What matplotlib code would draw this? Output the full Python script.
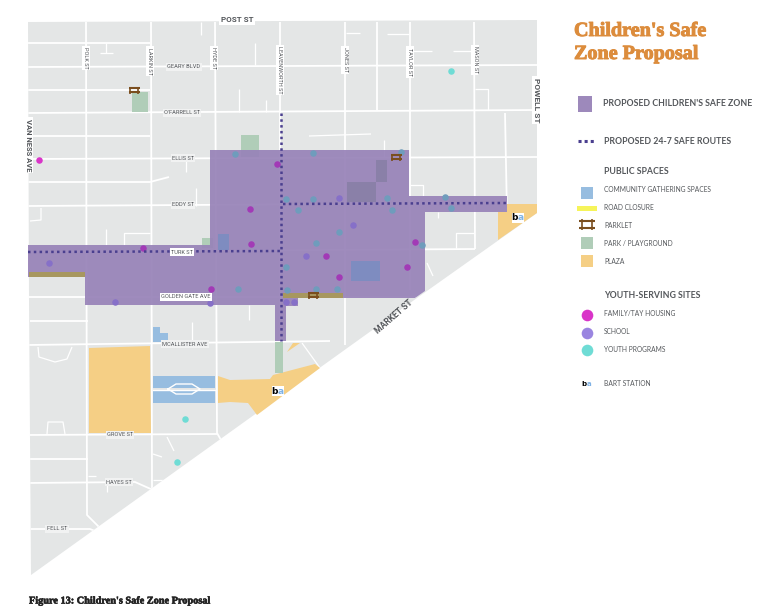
import matplotlib
matplotlib.use("Agg")
import matplotlib.pyplot as plt
import matplotlib.patheffects as pe
from matplotlib.patches import Polygon, Rectangle

NARROW = ["Liberation Sans Narrow", "Roboto", "DejaVu Sans"]
LEGEND_FONT = ["Lato", "DejaVu Sans"]

land = [(28, 22), (537, 20), (537, 213), (417, 298), (31, 575), (29, 300)]

main_streets = [
    [(28, 67), (537, 65)], [(28, 113), (537, 110)], [(28, 159), (537, 157)],
    [(28, 206), (505, 203)], [(28, 252), (475, 249)], [(28, 297), (416, 297)],
    [(28, 345), (330, 341)], [(28, 435), (217, 434)], [(28, 483), (135, 482), (153, 490)],
    [(30, 529), (90, 529), (100, 533)],
    [(86, 22), (87, 515), (102, 530)], [(151, 22), (152, 490)], [(215, 22), (217, 433), (221, 440)],
    [(280, 22), (280, 345)], [(345, 22), (345, 345)], [(410, 22), (410, 290)],
    [(474, 22), (475, 249)], [(505, 113), (507, 215)],
    [(377, 22), (377, 110)], [(28, 43), (150, 43)], [(28, 90), (150, 90)],
    [(28, 136), (150, 136)], [(28, 182), (150, 182), (169, 177)],
    [(30, 321), (88, 321)], [(30, 459), (88, 459)],
]
alleys = [
    [(106, 43), (106, 53)], [(100, 53), (113, 53)], [(201, 22), (201, 35)],
    [(255, 43), (255, 65)], [(239, 89), (239, 112)], [(266, 100), (266, 112)],
    [(186, 159), (186, 172)], [(196, 188), (196, 206)],
    [(30, 221), (41, 220), (41, 208)], [(106, 229), (106, 245)], [(124, 245), (124, 233), (150, 233)],
    [(346, 33), (360, 33)], [(387, 34), (409, 34)], [(410, 51), (432, 51)], [(453, 51), (474, 51)],
    [(475, 89), (488, 89), (488, 110)], [(309, 136), (371, 134)], [(384, 140), (384, 157)],
    [(410, 185), (423, 185), (423, 196)], [(438, 212), (438, 218)],
    [(456, 248), (456, 233), (474, 233)], [(427, 263), (433, 276)],
    [(38, 347), (39, 357), (55, 362), (67, 359), (72, 347)],
    [(47, 434), (48, 422), (63, 422), (65, 434)],
    [(192, 322), (192, 342)], [(249, 305), (249, 320)], [(302, 343), (320, 368)],
    [(167, 437), (174, 451)], [(153, 454), (162, 457)], [(88, 476), (96, 476)],
    [(107, 484), (107, 492)], [(153, 480), (172, 480)],
]

safe_zone = [(210, 150), (409, 150), (409, 196), (507, 196), (507, 212), (425, 212),
             (425, 291), (415, 298), (298, 298), (298, 306), (286, 306), (286, 341),
             (275, 341), (275, 305), (85, 305), (85, 277), (28, 277), (28, 245),
             (210, 245)]

plazas = [
    [(89, 348), (150, 346), (151, 433), (89, 433)],
    [(218, 376), (230, 380), (270, 379), (273, 375), (315, 364), (320, 368),
     (257, 415), (248, 403), (230, 402), (218, 403)],
    [(498, 212), (507, 212), (507, 204), (537, 204), (537, 213), (498, 240)],
    [(287, 352), (293, 343), (300, 343)],
]
parks = [(132, 92, 16, 20), (241, 135, 18, 22), (202, 238, 11, 10), (275, 342, 8, 31)]
gathering = [(153, 376, 62, 12), (153, 391, 62, 12)]
gathering_shape = [(153, 327), (160, 327), (160, 333), (168, 333), (168, 342), (153, 342)]
gathering_in_zone = [(218, 234, 11, 16), (351, 261, 29, 20)]
dark_blocks = [(347, 182, 29, 20), (376, 160, 11, 22)]
road_closures = [(29, 272, 56, 5), (283, 293, 60, 5)]
plaza_diamond = [(168, 389), (176, 384), (192, 384), (200, 389), (192, 394), (176, 394), (168, 389)]

family_x = [39]
family_y = [160]
family_zone_x = [143, 250, 251, 211, 277, 326, 339, 407, 415]
family_zone_y = [248, 209, 244, 289, 164, 256, 277, 267, 242]
school_zone_x = [49, 115, 210, 339, 353, 306, 286, 294]
school_zone_y = [263, 302, 303, 198, 225, 256, 302, 302]
youth_x = [451, 185, 177]
youth_y = [71, 419, 462]
youth_zone_x = [235, 238, 313, 401, 286, 313, 298, 387, 392, 445, 451, 339, 316, 422, 286, 287, 316, 337]
youth_zone_y = [154, 289, 153, 152, 199, 199, 210, 198, 210, 197, 208, 232, 243, 245, 267, 290, 289, 289]

routes = [[(28, 252), (281, 251)], [(283, 204), (507, 203)], [(281, 113), (281, 341)]]
parklets = [(134, 90), (396, 157), (313, 295)]
bart = [(518, 218), (278, 391)]

h_labels = ["GEARY BLVD", "O'FARRELL ST", "ELLIS ST", "EDDY ST", "TURK ST", "GOLDEN GATE AVE",
            "MCALLISTER AVE", "GROVE ST", "HAYES ST", "FELL ST"]
h_label_x = [184, 182, 183, 183, 182, 186, 185, 120, 119, 57]
h_label_y = [67, 113, 158, 205, 252, 297, 344, 435, 482, 529]
v_labels = ["POLK ST", "LARKIN ST", "HYDE ST", "LEAVENWORTH ST", "JONES ST", "TAYLOR ST", "MASON ST"]
v_label_x = [86, 150, 214, 280, 345, 410, 475]
v_label_y = [58, 61, 58, 70, 60, 62, 60]

public_labels = ["COMMUNITY GATHERING SPACES", "ROAD CLOSURE", "PARKLET", "PARK / PLAYGROUND", "PLAZA"]
public_y = [190, 208, 225, 243, 261]
youth_labels = ["FAMILY/TAY HOUSING", "SCHOOL", "YOUTH PROGRAMS"]
youth_label_y = [314, 332, 349]

BLUE = "#97bde0"
GREEN = "#b0cdb8"
PLAZA = "#f5cf85"
MAGENTA = "#d934c8"
SCHOOL = "#9a85e0"
TEAL = "#6fdcd5"
ROUTE = "#4a3f8f"
BENCH = "#7a4e1e"
TEXT = "#55585c"


def draw_bench(ax, cx, cy, w=11, h=7, z=8):
    ax.plot([cx - w / 2, cx + w / 2], [cy - h / 3, cy - h / 3], color=BENCH, lw=1.5, zorder=z, solid_capstyle="butt")
    ax.plot([cx - w / 2, cx + w / 2], [cy + h / 3, cy + h / 3], color=BENCH, lw=1.5, zorder=z, solid_capstyle="butt")
    for dx in (-w / 3, w / 3):
        ax.plot([cx + dx, cx + dx], [cy - h / 2, cy + h / 2], color=BENCH, lw=1.2, zorder=z, solid_capstyle="butt")


def draw_bart(ax, cx, cy, fs=6.5):
    ax.add_patch(Rectangle((cx - 6, cy - 5), 12, 10, fc="white", ec="none", zorder=9))
    ax.text(cx - 0.5, cy, "b", color="black", fontsize=fs, fontweight="bold", ha="right", va="center",
            family="DejaVu Sans", zorder=10)
    ax.text(cx - 0.5, cy, "a", color="#7fb2e5", fontsize=fs, fontweight="bold", ha="left", va="center",
            family="DejaVu Sans", zorder=10)


fig = plt.figure(figsize=(7.8, 6.16), dpi=100)
ax = fig.add_axes([0, 0, 1, 1])
ax.set_xlim(0, 780)
ax.set_ylim(616, 0)
ax.axis("off")

land_patch = Polygon(land, closed=True, fc="#e4e6e6", ec="none", zorder=1)
ax.add_patch(land_patch)

for street in main_streets:
    xs, ys = zip(*street)
    line, = ax.plot(xs, ys, color="white", lw=1.3, zorder=2, solid_capstyle="butt")
    line.set_clip_path(land_patch)
for street in alleys:
    xs, ys = zip(*street)
    line, = ax.plot(xs, ys, color="white", lw=0.9, zorder=2, solid_capstyle="butt")
    line.set_clip_path(land_patch)

for shape in plazas:
    ax.add_patch(Polygon(shape, closed=True, fc=PLAZA, ec="none", zorder=3))
for x, y, w, h in parks:
    ax.add_patch(Rectangle((x, y), w, h, fc=GREEN, ec="none", zorder=3))
for x, y, w, h in gathering:
    ax.add_patch(Rectangle((x, y), w, h, fc=BLUE, ec="none", zorder=3))
ax.add_patch(Polygon(gathering_shape, closed=True, fc=BLUE, ec="none", zorder=3))
xs, ys = zip(*plaza_diamond)
ax.plot(xs, ys, color="white", lw=1.0, zorder=4)
ax.plot([153, 215], [389.5, 389.5], color="white", lw=1.0, zorder=3)

ax.add_patch(Polygon(safe_zone, closed=True, fc="#9883b8", ec="none", alpha=0.93, zorder=5))
for x, y, w, h in dark_blocks:
    ax.add_patch(Rectangle((x, y), w, h, fc="#8a80a8", ec="none", zorder=6))
for x, y, w, h in gathering_in_zone:
    ax.add_patch(Rectangle((x, y), w, h, fc="#7e8cc0", ec="none", zorder=6))
for x, y, w, h in road_closures:
    ax.add_patch(Rectangle((x, y), w, h, fc="#a7975f", ec="none", zorder=6))

ax.scatter(family_x, family_y, s=22, color=MAGENTA, linewidths=0, zorder=7)
ax.scatter(family_zone_x, family_zone_y, s=22, color="#a23ab6", linewidths=0, zorder=7)
ax.scatter(school_zone_x, school_zone_y, s=22, color="#8670c8", linewidths=0, zorder=7)
ax.scatter(youth_x, youth_y, s=22, color=TEAL, linewidths=0, zorder=7)
ax.scatter(youth_zone_x, youth_zone_y, s=22, color="#6f9cbc", linewidths=0, zorder=7)

for route in routes:
    xs, ys = zip(*route)
    ax.plot(xs, ys, color=ROUTE, lw=1.8, linestyle=(0, (1, 1.32)), zorder=8, dash_capstyle="butt")

for cx, cy in parklets:
    draw_bench(ax, cx, cy)
for cx, cy in bart:
    draw_bart(ax, cx, cy)

label_box = dict(fc="white", ec="none", pad=1.0)
for name, x, y in zip(h_labels, h_label_x, h_label_y):
    ax.text(x, y, name, fontsize=4.1, color=TEXT, ha="center", va="center", family=NARROW,
            bbox=label_box if name == "TURK ST" or name == "GOLDEN GATE AVE" else dict(fc="#f1f2f2", ec="none", pad=1.0), zorder=9)
for name, x, y in zip(v_labels, v_label_x, v_label_y):
    ax.text(x, y, name, fontsize=4.0, color=TEXT, ha="center", va="center", rotation=-90, family=NARROW,
            bbox=label_box, zorder=9)

ax.text(237, 20, "POST ST", fontsize=5.8, color=TEXT, ha="center", va="center", family=NARROW,
        fontweight="bold", bbox=label_box, zorder=9)
ax.text(28, 145, "VAN NESS AVE", fontsize=5.5, color=TEXT, ha="center", va="center", rotation=-90, family=NARROW,
        fontweight="bold", bbox=label_box, zorder=9)
ax.text(537, 100, "POWELL ST", fontsize=6.0, color=TEXT, ha="center", va="center", rotation=-90, family=NARROW,
        fontweight="bold", bbox=label_box, zorder=9)
ax.text(394, 317, "MARKET ST", fontsize=6.2, color=TEXT, ha="center", va="center", rotation=41, family=NARROW,
        fontweight="bold", zorder=9)

# legend column
heavy = [pe.withStroke(linewidth=0.7, foreground="#dc8c3c")]
ax.text(574, 31, "Children's Safe", fontsize=14.5, color="#dc8c3c", fontweight="bold", family="Liberation Serif",
        ha="left", va="center", path_effects=heavy)
ax.text(574, 54, "Zone Proposal", fontsize=14.5, color="#dc8c3c", fontweight="bold", family="Liberation Serif",
        ha="left", va="center", path_effects=heavy)

ax.add_patch(Rectangle((578, 96), 14, 16, fc="#9d89bb", ec="none"))
ax.text(603, 104, "PROPOSED CHILDREN'S SAFE ZONE", fontsize=6.3, fontweight="bold", color=TEXT, family=LEGEND_FONT,
        ha="left", va="center")
ax.plot([578, 595], [141, 141], color=ROUTE, lw=2.2, linestyle=(0, (1, 1)), dash_capstyle="butt")
ax.text(604, 141, "PROPOSED 24-7 SAFE ROUTES", fontsize=6.3, fontweight="bold", color=TEXT, family=LEGEND_FONT,
        ha="left", va="center")

ax.text(604, 172, "PUBLIC SPACES", fontsize=6.3, fontweight="bold", color=TEXT, family=LEGEND_FONT, ha="left", va="center")
for name, y in zip(public_labels, public_y):
    ax.text(604, y, name, fontsize=4.8, color=TEXT, family=LEGEND_FONT, ha="left", va="center")
ax.add_patch(Rectangle((581, 187), 12, 12, fc=BLUE, ec="none"))
ax.add_patch(Rectangle((577, 206), 20, 5, fc="#f6f45a", ec="none"))
draw_bench(ax, 587, 224.5, w=16, h=11)
ax.add_patch(Rectangle((581, 237), 12, 12, fc=GREEN, ec="none"))
ax.add_patch(Rectangle((581, 255), 12, 12, fc=PLAZA, ec="none"))

ax.text(604, 295, "YOUTH-SERVING SITES", fontsize=6.3, fontweight="bold", color=TEXT, family=LEGEND_FONT, ha="left", va="center")
for name, y in zip(youth_labels, youth_label_y):
    ax.text(604, y, name, fontsize=4.8, color=TEXT, family=LEGEND_FONT, ha="left", va="center")
for y, col in zip(youth_label_y, [MAGENTA, SCHOOL, TEAL]):
    ax.scatter([587], [y + 0.5], s=70, color=col, linewidths=0)

draw_bart(ax, 587, 384, fs=5)
ax.text(604, 384, "BART STATION", fontsize=4.8, color=TEXT, family=LEGEND_FONT, ha="left", va="center")

ax.text(29, 601, "Figure 13: Children's Safe Zone Proposal", fontsize=7.4, fontweight="bold", color="#222222",
        family="Liberation Serif", ha="left", va="center",
        path_effects=[pe.withStroke(linewidth=0.4, foreground="#222222")])

fig.savefig("out.png", dpi=100)
